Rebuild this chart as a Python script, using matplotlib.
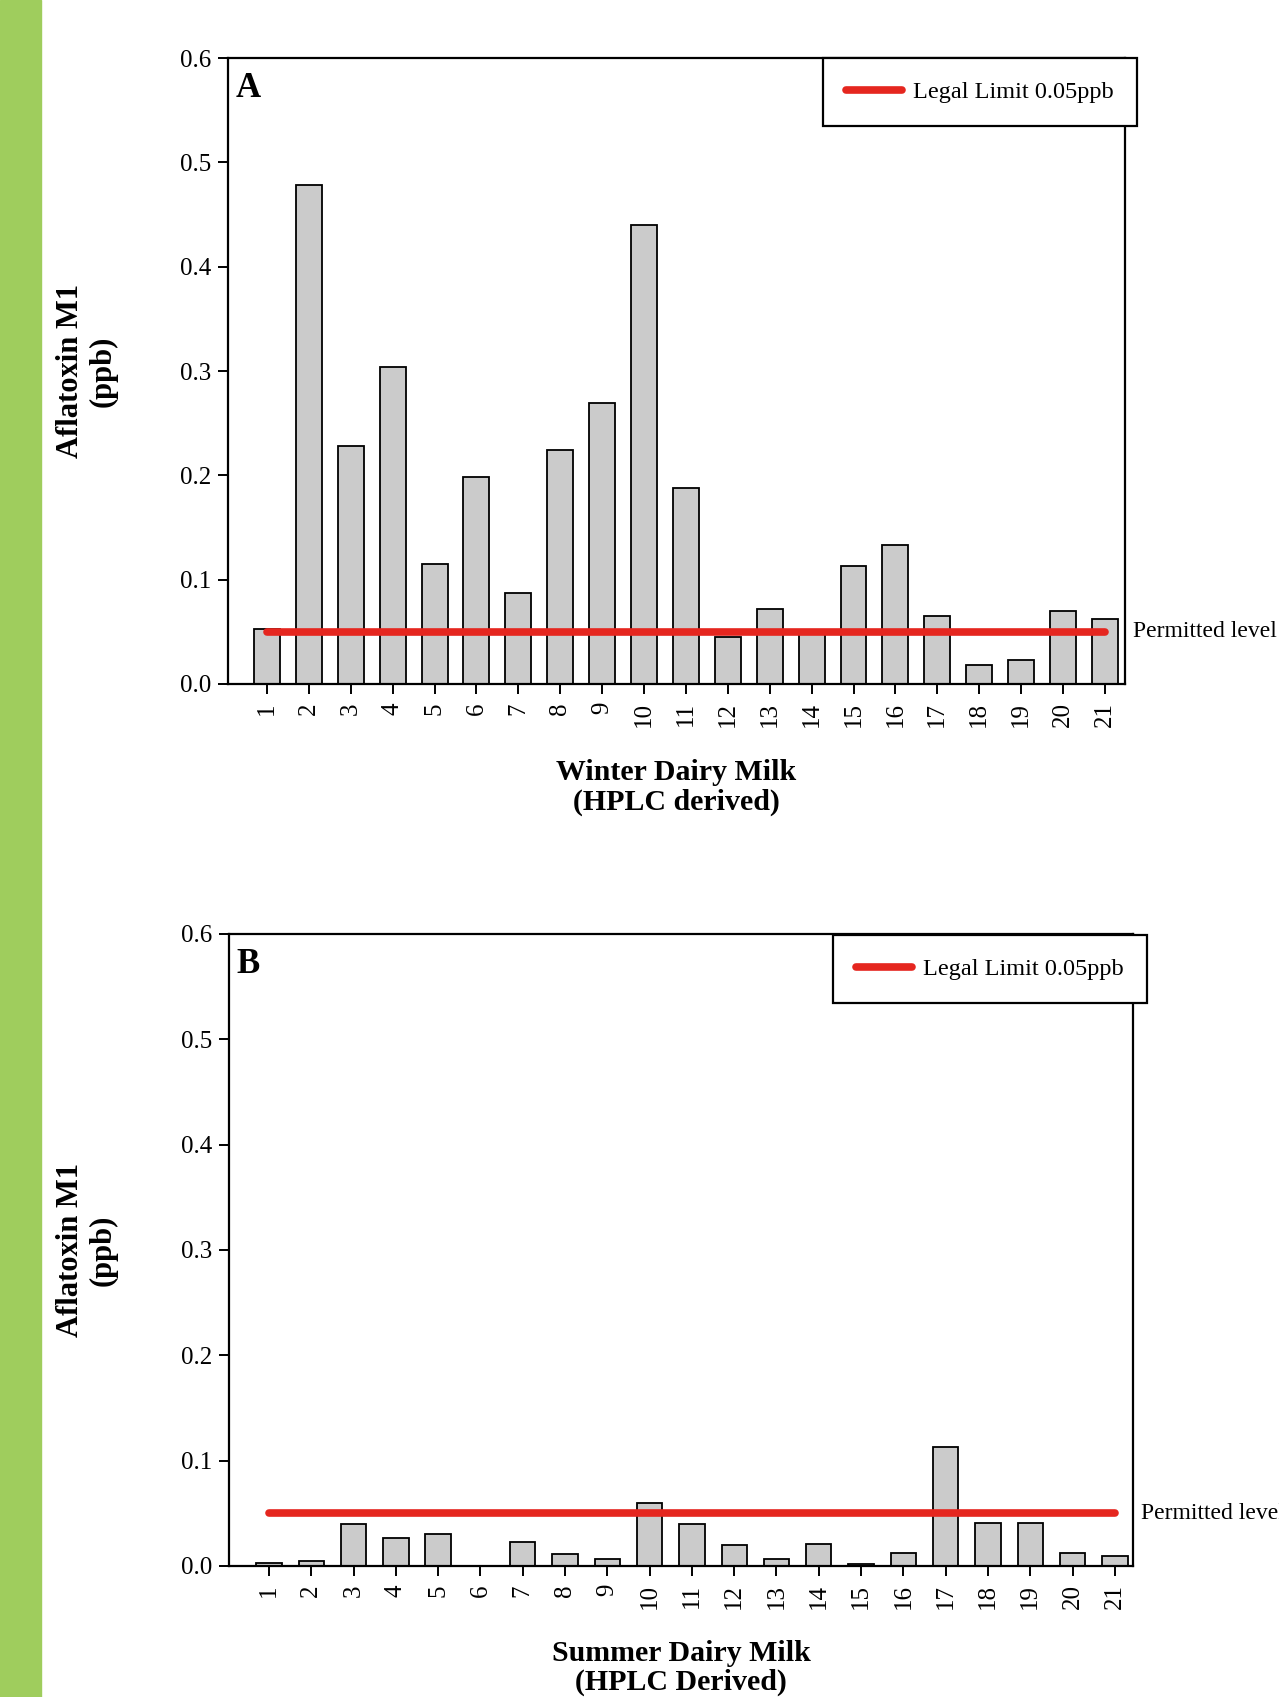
import matplotlib
matplotlib.use("Agg")
import matplotlib.pyplot as plt
from matplotlib.patches import Rectangle

# sample numbers and Aflatoxin M1 levels (ppb)
samples = list(range(1, 22))
winter_afm1 = [0.053, 0.478, 0.228, 0.304, 0.115, 0.198, 0.087, 0.224, 0.269, 0.440,
               0.188, 0.045, 0.072, 0.050, 0.113, 0.133, 0.065, 0.018, 0.023, 0.070, 0.062]
summer_afm1 = [0.0025, 0.0048, 0.040, 0.027, 0.030, 0.0, 0.023, 0.011, 0.0067, 0.060,
               0.0395, 0.020, 0.0067, 0.021, 0.0016, 0.012, 0.113, 0.041, 0.041, 0.012, 0.0096]
legal_limit = 0.05
yticks = [0.0, 0.1, 0.2, 0.3, 0.4, 0.5, 0.6]

plt.rcParams['font.family'] = ['Liberation Serif', 'DejaVu Serif']

RED = '#e5261f'
W, H = 1279, 1697


def draw_panel(ax, values, letter, xlabel, xlim, width, letter_y, xlabel_y, legend_anchor):
    ax.bar(samples, values, width=width, color='#cbcbcb', edgecolor='black', linewidth=1.3, zorder=2)
    ax.plot([samples[0], samples[-1]], [legal_limit, legal_limit], color=RED, linewidth=5.5,
            solid_capstyle='round', label='Legal Limit 0.05ppb', zorder=3)
    ax.set_xlim(*xlim)
    ax.set_ylim(0, 0.6)
    ax.set_yticks(yticks)
    ax.set_yticklabels([f"{v:.1f}" for v in yticks])
    ax.set_xticks(samples)
    ax.set_xticklabels([str(s) for s in samples], rotation=90)
    ax.tick_params(axis='both', direction='out', length=7, width=1.4, labelsize=18)
    ax.tick_params(axis='y', pad=5)
    ax.tick_params(axis='x', pad=6)
    for sp in ax.spines.values():
        sp.set_linewidth(1.6)

    ax.set_ylabel("Aflatoxin M1\n(ppb)", fontsize=22, fontweight='bold', va='center', linespacing=1.15)
    ax.yaxis.set_label_coords(-0.157, 0.5)
    ax.set_xlabel(xlabel, fontsize=21.5, fontweight='bold', va='center', linespacing=1.1)
    ax.xaxis.set_label_coords(0.5, xlabel_y)

    ax.text(0.008, letter_y, letter, transform=ax.transAxes, fontsize=25, fontweight='bold',
            ha='left', va='top')
    ax.annotate("Permitted level", xy=(1.009, legal_limit), xycoords=('axes fraction', 'data'),
                fontsize=17, ha='left', va='center', annotation_clip=False)

    leg = ax.legend(loc='upper right', bbox_to_anchor=legend_anchor, bbox_transform=ax.figure.transFigure,
                    fontsize=17.5, frameon=True, fancybox=False, framealpha=1, edgecolor='black',
                    borderaxespad=0, borderpad=0.95, handlelength=2.3, handletextpad=0.45)
    leg.get_frame().set_linewidth(1.6)
    leg.set_zorder(5)


fig = plt.figure(figsize=(W / 100, H / 100), dpi=100)
fig.patches.append(Rectangle((0, 0), 41 / W, 1, transform=fig.transFigure, color='#9fcd5d', zorder=0))

ax1 = fig.add_axes([228 / W, 1 - 684 / H, 897 / W, 626 / H])
draw_panel(ax1, winter_afm1, 'A', "Winter Dairy Milk\n(HPLC derived)",
           (0.07, 21.48), 0.62, 0.978, -0.165, (1137 / W, 1 - 58 / H))

ax2 = fig.add_axes([229 / W, 1 - 1566 / H, 904 / W, 632 / H])
draw_panel(ax2, summer_afm1, 'B', "Summer Dairy Milk\n(HPLC Derived)",
           (0.054, 21.43), 0.6, 0.978, -0.161, (1147 / W, 1 - 935 / H))

fig.savefig('out.png', dpi=100)
